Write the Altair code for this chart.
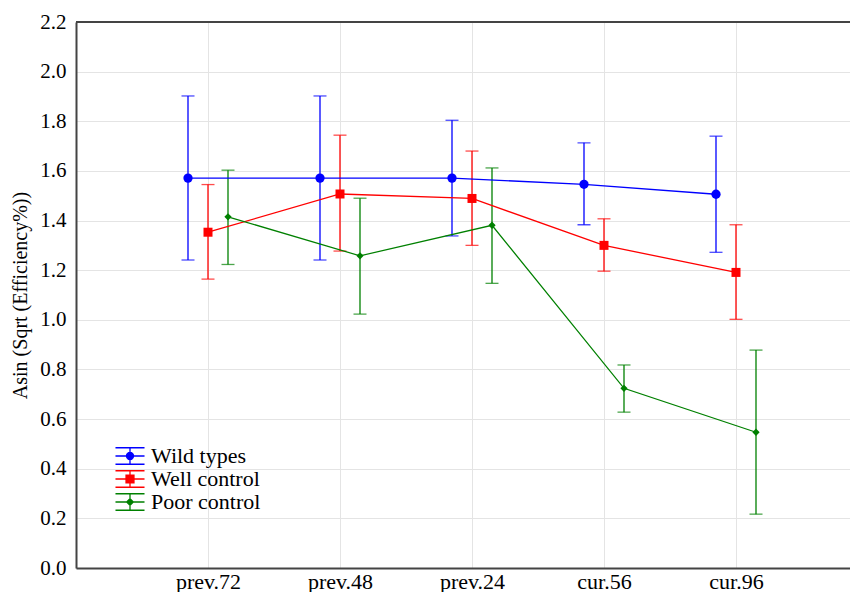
import altair as alt
import pandas as pd

categories = ["prev.72", "prev.48", "prev.24", "cur.56", "cur.96"]
series = ["Wild types", "Well control", "Poor control"]
colors = ["#0000ff", "#ff0000", "#008000"]

wild_mean = [1.571, 1.571, 1.571, 1.546, 1.506]
wild_lo = [1.241, 1.241, 1.338, 1.383, 1.272]
wild_hi = [1.902, 1.902, 1.804, 1.713, 1.740]

well_mean = [1.353, 1.507, 1.489, 1.300, 1.191]
well_lo = [1.164, 1.277, 1.300, 1.196, 1.002]
well_hi = [1.545, 1.744, 1.680, 1.407, 1.383]

poor_mean = [1.415, 1.258, 1.381, 0.724, 0.547]
poor_lo = [1.223, 1.023, 1.147, 0.628, 0.217]
poor_hi = [1.603, 1.490, 1.612, 0.818, 0.878]

yticks = [0.0, 0.2, 0.4, 0.6, 0.8, 1.0, 1.2, 1.4, 1.6, 1.8, 2.0, 2.2]

rows = []
for s, m, lo, hi in [
    (series[0], wild_mean, wild_lo, wild_hi),
    (series[1], well_mean, well_lo, well_hi),
    (series[2], poor_mean, poor_lo, poor_hi),
]:
    for i, c in enumerate(categories):
        rows.append({"category": c, "idx": i + 1, "series": s,
                     "mean": m[i], "lo": lo[i], "hi": hi[i]})
df = pd.DataFrame(rows)

FONT = "'Liberation Serif', 'Times New Roman', Times, 'DejaVu Serif', serif"
W, H = 774, 546
STEP = 132.0
dodge = 20.0 / STEP
xmax = W / STEP

label_expr = "[''," + ",".join("'%s'" % c for c in categories) + "][datum.value]"

base = alt.Chart(df).transform_calculate(
    xpos="datum.idx + (datum.series == 'Wild types' ? -%f : (datum.series == 'Poor control' ? %f : 0))" % (dodge, dodge)
)

xscale = alt.Scale(domain=[0, xmax], nice=False, zero=False)
yscale = alt.Scale(domain=[0, 2.2], nice=False, zero=False)
# colour scale for the marks (domain listed in reverse so it stays apart from the legend scales)
cscale = alt.Scale(domain=series[::-1], range=colors[::-1])

x_axis = alt.Axis(values=[1, 2, 3, 4, 5], labelExpr=label_expr, title=None,
                  grid=True, gridColor="#e4e4e4", gridWidth=1, ticks=False,
                  domainColor="#444444", domainWidth=2, labelFont=FONT, labelFontSize=22,
                  labelColor="black", labelPadding=3, labelOverlap=False)
y_axis = alt.Axis(values=yticks, format=".1f", title="Asin (Sqrt (Efficiency%))",
                  grid=True, gridColor="#e4e4e4", gridWidth=1, ticks=False,
                  domainColor="#444444", domainWidth=2, labelFont=FONT, labelFontSize=21,
                  labelColor="black", labelPadding=10, titleFont=FONT, titleFontSize=20,
                  titleFontWeight="normal", titleColor="black", titlePadding=9)

X = alt.X("xpos:Q", scale=xscale, axis=x_axis)
col = alt.Color("series:N", scale=cscale, legend=None)


def Y(field):
    return alt.Y(field, scale=yscale, axis=y_axis)


bars = base.mark_rule(strokeWidth=1.3).encode(
    x=X, y=Y("lo:Q"), y2="hi:Q", color=col,
)

caps = base.transform_fold(["lo", "hi"], as_=["end", "val"]).mark_tick(
    orient="horizontal", size=13, thickness=1.3
).encode(x=X, y=Y("val:Q"), color=col)

lines = base.mark_line(strokeWidth=1.3).encode(
    x=X, y=Y("mean:Q"), color=col, detail="series:N", order="idx:Q",
)

shapes = ["circle", "square", "diamond"]
sizes = [86, 81, 53]
points = []
for s, sh, sz in zip(series, shapes, sizes):
    points.append(
        base.transform_filter(alt.datum.series == s).mark_point(
            shape=sh, size=sz, filled=True, opacity=1
        ).encode(x=X, y=Y("mean:Q"), color=col)
    )

lines3 = "M-1.32,-0.75H1.32M-1.32,0H1.32M-1.32,0.75H1.32M0,-0.75V0.75"
legend_paths = [
    lines3 + "M-0.32,0A0.32,0.32,0,1,0,0.32,0A0.32,0.32,0,1,0,-0.32,0Z",
    lines3 + "M-0.36,-0.36H0.36V0.36H-0.36Z",
    lines3 + "M-0.3,0L0,-0.3L0.3,0L0,0.3Z",
]

leg = alt.Legend(orient="none", legendX=42, legendY=422, title=None,
                 labelFont=FONT, labelFontSize=22, labelColor="black",
                 labelOffset=9, rowPadding=0, padding=0, symbolSize=484,
                 symbolStrokeWidth=1.3, symbolOpacity=1, labelLimit=300)

legend_layer = base.mark_point(filled=True, opacity=0).encode(
    x=X, y=Y("mean:Q"),
    fill=alt.Fill("series:N", scale=alt.Scale(domain=series, range=colors), legend=leg),
    stroke=alt.Stroke("series:N", scale=alt.Scale(domain=series, range=colors), legend=leg),
    shape=alt.Shape("series:N", scale=alt.Scale(domain=series, range=legend_paths), legend=leg),
)

# top border line at the top of the y domain
top = alt.Chart(pd.DataFrame({"v": [2.2]})).mark_rule(color="#444444", strokeWidth=2).encode(
    y=Y("v:Q")
)

chart = alt.layer(bars, caps, lines, *points, legend_layer, top).properties(
    width=W, height=H,
    autosize=alt.AutoSizeParams(type="none"),
    padding={"left": 68, "top": 14, "right": 0, "bottom": 24},
).configure_view(stroke=None).configure(background="white")

chart.save("out.html", embed_options={"renderer": "svg", "actions": False})
